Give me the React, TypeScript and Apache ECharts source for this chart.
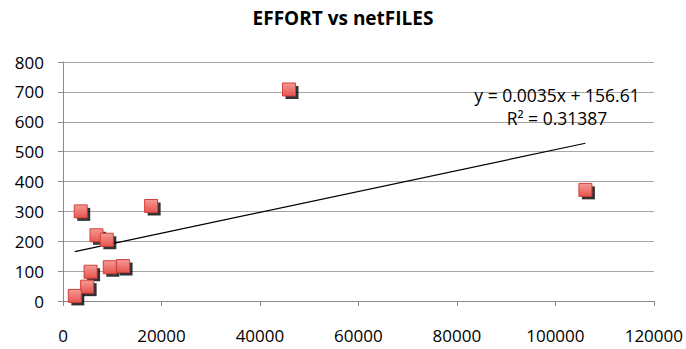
import React, { useEffect, useRef } from "react";
import * as echarts from "echarts";

const xValues = [3600, 6800, 8900, 5600, 4900, 2400, 9500, 12200, 17900, 45900, 106100];
const yValues = [300, 220, 205, 98, 48, 17, 113, 117, 318, 708, 372];
const slope = 0.0035;
const intercept = 156.61;
const rSquared = "0.31387";
const xTicks = [0, 20000, 40000, 60000, 80000, 100000, 120000];
const yTicks = [0, 100, 200, 300, 400, 500, 600, 700, 800];

export default function App() {
  const ref = useRef<HTMLDivElement>(null);
  useEffect(() => {
    if (!ref.current) return;
    const chart = echarts.init(ref.current, undefined, { renderer: "svg" });
    const pts = xValues.map((x, i) => [x, yValues[i]]);
    const xMin = Math.min(...xValues);
    const xMax = Math.max(...xValues);
    const trend = [
      [xMin, slope * xMin + intercept],
      [xMax, slope * xMax + intercept],
    ];
    const font = "'Open Sans', 'DejaVu Sans', sans-serif";
    chart.setOption({
      animation: false,
      backgroundColor: "#fff",
      title: {
        text: "EFFORT vs netFILES",
        left: "center",
        top: 3,
        textStyle: { fontFamily: font, fontSize: 19, fontWeight: "bold", color: "#000" },
      },
      grid: { left: 63, right: 29, top: 62, bottom: 48 },
      xAxis: {
        type: "value",
        min: xTicks[0],
        max: xTicks[xTicks.length - 1],
        interval: 20000,
        axisLine: { show: true, lineStyle: { color: "#8c8c8c" } },
        axisTick: { show: true, length: 5, lineStyle: { color: "#8c8c8c" } },
        splitLine: { show: false },
        axisLabel: {
          fontFamily: font,
          fontSize: 17,
          color: "#000",
          margin: 26,
          formatter: (v: number) => String(v),
        },
      },
      yAxis: {
        type: "value",
        min: yTicks[0],
        max: yTicks[yTicks.length - 1],
        interval: 100,
        axisLine: { show: true, lineStyle: { color: "#8c8c8c" } },
        axisTick: { show: true, length: 5, lineStyle: { color: "#8c8c8c" } },
        splitLine: { show: true, lineStyle: { color: "#a6a6a6" } },
        axisLabel: {
          fontFamily: font,
          fontSize: 17,
          color: "#000",
          margin: 19,
          formatter: (v: number) => String(v),
        },
      },
      series: [
        {
          type: "line",
          data: trend,
          symbol: "none",
          lineStyle: { color: "#000", width: 1.2 },
          z: 3,
        },
        {
          type: "scatter",
          data: pts,
          symbol: "rect",
          symbolSize: 13,
          symbolOffset: [3, 3],
          itemStyle: { color: "#000" },
          z: 4,
        },
        {
          type: "scatter",
          data: pts,
          symbol: "rect",
          symbolSize: 13,
          itemStyle: {
            color: new echarts.graphic.LinearGradient(0, 0, 0, 1, [
              { offset: 0, color: "#f59a96" },
              { offset: 1, color: "#e8544f" },
            ]),
            borderColor: "#d0403b",
            borderWidth: 1,
            opacity: 1,
          },
          z: 5,
        },
      ],
      graphic: [
        {
          type: "text",
          x: 557,
          y: 95,
          style: {
            text: `y = ${slope}x + ${intercept}`,
            fontFamily: font,
            fontSize: 17.5,
            fill: "#000",
            align: "center",
            verticalAlign: "middle",
          },
          z: 10,
        },
        {
          type: "text",
          x: 557,
          y: 118,
          style: {
            text: `R² = ${rSquared}`,
            fontFamily: font,
            fontSize: 17.5,
            fill: "#000",
            align: "center",
            verticalAlign: "middle",
          },
          z: 10,
        },
      ],
    });
    return () => chart.dispose();
  }, []);
  return <div ref={ref} style={{ width: 686, height: 349, position: "absolute", left: 0, top: 0 }} />;
}
